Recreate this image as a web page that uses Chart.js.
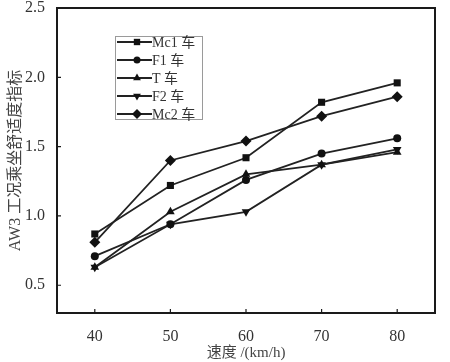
<!DOCTYPE html>
<html lang="zh">
<head>
  <meta charset="UTF-8">
  <title>AW3 工况乘坐舒适度指标</title>
  <script src="https://cdn.jsdelivr.net/npm/chart.js"></script>
  <style>
    html, body { margin: 0; padding: 0; background: #fff; }
    #wrap { width: 450px; height: 362px; }
  </style>
</head>
<body>
  <div id="wrap"><canvas id="chart" width="450" height="362"></canvas></div>

  <script>
    // speeds on x axis (km/h)
    const speeds = [40, 50, 60, 70, 80];
    const yTicks = [0.5, 1.0, 1.5, 2.0, 2.5];

    // comfort index per car
    const mc1 = [0.87, 1.22, 1.42, 1.82, 1.96];
    const f1 = [0.71, 0.94, 1.26, 1.45, 1.56];
    const tCar = [0.63, 1.03, 1.30, 1.37, 1.46];
    const f2 = [0.63, 0.94, 1.03, 1.37, 1.48];
    const mc2 = [0.81, 1.40, 1.54, 1.72, 1.86];

    const seriesNames = ['Mc1 车', 'F1 车', 'T 车', 'F2 车', 'Mc2 车'];
    const seriesValues = [mc1, f1, tCar, f2, mc2];
    const markers = [
      { style: 'rect', rot: 0, r: 5 },
      { style: 'circle', rot: 0, r: 4 },
      { style: 'triangle', rot: 0, r: 5 },
      { style: 'triangle', rot: 180, r: 5 },
      { style: 'rectRot', rot: 0, r: 5.5 }
    ];

    const FONT = '"Liberation Serif", "Noto Sans CJK SC", serif';
    const INK = '#222';

    const datasets = seriesNames.map((name, i) => ({
      label: name,
      data: speeds.map((s, j) => ({ x: s, y: seriesValues[i][j] })),
      borderColor: INK,
      backgroundColor: '#111',
      borderWidth: 1.8,
      pointStyle: markers[i].style,
      pointRotation: markers[i].rot,
      pointRadius: markers[i].r,
      pointBorderWidth: 0,
      tension: 0
    }));

    // frame + inward ticks
    const framePlugin = {
      id: 'frame',
      afterDraw(chart) {
        const { ctx, chartArea: a, scales } = chart;
        ctx.save();
        ctx.strokeStyle = '#1a1a1a';
        ctx.lineWidth = 2;
        ctx.strokeRect(a.left, a.top, a.right - a.left, a.bottom - a.top);
        ctx.lineWidth = 1.2;
        ctx.beginPath();
        yTicks.forEach(v => {
          const y = scales.y.getPixelForValue(v);
          ctx.moveTo(a.left, y);
          ctx.lineTo(a.left + 4, y);
        });
        speeds.forEach(v => {
          const x = scales.x.getPixelForValue(v);
          ctx.moveTo(x, a.bottom);
          ctx.lineTo(x, a.bottom - 4);
        });
        ctx.stroke();
        ctx.restore();
      }
    };

    // legend box drawn inside the plot
    const boxLegend = {
      id: 'boxLegend',
      afterDraw(chart) {
        const { ctx } = chart;
        const x0 = 115, y0 = 36, w = 87, h = 83;
        ctx.save();
        ctx.fillStyle = '#fff';
        ctx.fillRect(x0, y0, w, h);
        ctx.strokeStyle = '#9a9a9a';
        ctx.lineWidth = 1;
        ctx.strokeRect(x0 + 0.5, y0 + 0.5, w, h);
        chart.data.datasets.forEach((ds, i) => {
          const y = y0 + 6 + i * 18;
          ctx.strokeStyle = INK;
          ctx.lineWidth = 1.8;
          ctx.beginPath();
          ctx.moveTo(x0 + 2, y);
          ctx.lineTo(x0 + 37, y);
          ctx.stroke();
          ctx.fillStyle = '#111';
          Chart.helpers.drawPoint(ctx, {
            pointStyle: ds.pointStyle,
            rotation: ds.pointRotation,
            radius: ds.pointRadius - 0.5,
            borderWidth: 0
          }, x0 + 22, y);
          ctx.fillStyle = '#333';
          ctx.font = '14px ' + FONT;
          ctx.textBaseline = 'middle';
          ctx.textAlign = 'left';
          ctx.fillText(ds.label, x0 + 37, y + 1);
        });
        ctx.restore();
      }
    };

    new Chart(document.getElementById('chart'), {
      type: 'line',
      data: { datasets },
      plugins: [framePlugin, boxLegend],
      options: {
        responsive: false,
        animation: false,
        layout: { padding: { left: 0, right: 15, top: 8, bottom: 0 } },
        plugins: {
          legend: { display: false },
          tooltip: { enabled: false }
        },
        scales: {
          x: {
            type: 'linear',
            min: 35,
            max: 85,
            afterBuildTicks: s => { s.ticks = speeds.map(v => ({ value: v })); },
            afterFit: s => { s.height = 49; },
            grid: { display: false },
            border: { display: false },
            ticks: {
              color: '#333',
              font: { family: FONT, size: 16 },
              padding: 6,
              maxRotation: 0
            },
            title: {
              display: true,
              text: '速度 /(km/h)',
              color: '#444',
              font: { family: FONT, size: 15 },
              padding: { top: 0, bottom: 0 }
            }
          },
          y: {
            min: 0.3,
            max: 2.5,
            afterBuildTicks: s => { s.ticks = yTicks.map(v => ({ value: v })); },
            afterFit: s => { s.width = 57; s.paddingTop = 0; s.paddingBottom = 0; },
            grid: { display: false },
            border: { display: false },
            ticks: {
              color: '#333',
              font: { family: FONT, size: 16 },
              padding: 4,
              callback: v => Number(v).toFixed(1)
            },
            title: {
              display: true,
              text: 'AW3 工况乘坐舒适度指标',
              color: '#444',
              font: { family: FONT, size: 16 },
              padding: { top: 6, bottom: 0 }
            }
          }
        }
      }
    });
  </script>
</body>
</html>
